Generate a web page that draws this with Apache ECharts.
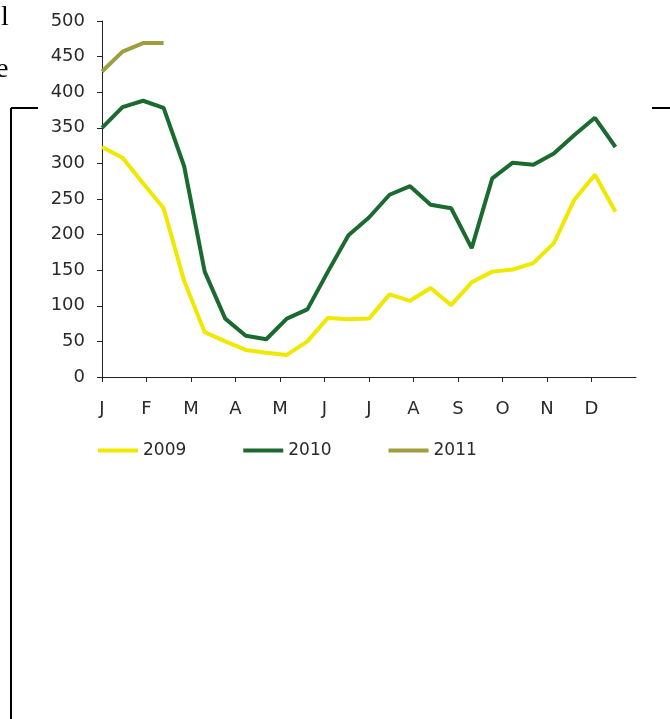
<!DOCTYPE html>
<html>
<head>
<meta charset="utf-8">
<script src="https://cdn.jsdelivr.net/npm/echarts@6/dist/echarts.min.js"></script>
<style>
html, body { margin: 0; padding: 0; background: #fff; }
#chart { width: 670px; height: 719px; }
</style>
</head>
<body>
<div id="chart"></div>
<script>
// fortnightly readings, 26 per year (27th slot = year end)
const periods = ['1','2','3','4','5','6','7','8','9','10','11','12','13','14','15','16','17','18','19','20','21','22','23','24','25','26','27'];
const months = ['J','F','M','A','M','J','J','A','S','O','N','D',''];

const y2009 = [323, 308, 272, 237, 135, 63, 50, 38, 34, 31, 50, 83, 81, 82, 116, 107, 125, 101, 133, 148, 151, 160, 188, 249, 284, 232];
const y2010 = [350, 379, 388, 378, 296, 148, 82, 58, 53, 82, 95, 148, 199, 224, 256, 268, 242, 237, 181, 279, 301, 298, 314, 340, 364, 323];
const y2011 = [429, 457, 469, 469];

const font = 'DejaVu Sans';

var chart = echarts.init(document.getElementById('chart'));

const option = {
  animation: false,
  backgroundColor: '#fff',
  grid: { left: 102, top: 21, width: 534, height: 356 },
  legend: {
    data: ['2009', '2010', '2011'],
    left: 93,
    top: 437,
    icon: 'rect',
    itemWidth: 40,
    itemHeight: 4,
    itemGap: 57,
    textStyle: { fontFamily: font, fontSize: 17, color: '#2a2a2a' },
  },
  xAxis: [
    {
      type: 'category',
      data: periods,
      boundaryGap: false,
      show: false,
    },
    {
      type: 'category',
      data: months,
      boundaryGap: false,
      position: 'bottom',
      axisLine: { lineStyle: { color: '#222', width: 1 } },
      axisTick: {
        length: 5,
        lineStyle: { color: '#222' },
        interval: function (i) {
          return i < 12;
        },
      },
      axisLabel: {
        fontFamily: font,
        fontSize: 18,
        color: '#2a2a2a',
        margin: 23,
        interval: function (i) {
          return i < 12;
        },
      },
      splitLine: { show: false },
    },
  ],
  yAxis: {
    type: 'value',
    min: 0,
    max: 500,
    interval: 50,
    axisLine: { show: true, lineStyle: { color: '#222', width: 1 } },
    axisTick: { show: true, length: 5, lineStyle: { color: '#222' } },
    axisLabel: { fontFamily: font, fontSize: 18, color: '#2a2a2a', margin: 17 },
    splitLine: { show: false },
  },
  series: [
    {
      name: '2009',
      type: 'line',
      xAxisIndex: 0,
      data: y2009,
      symbol: 'none',
      color: '#f0e800',
      lineStyle: { width: 4, color: '#f0e800' },
    },
    {
      name: '2010',
      type: 'line',
      xAxisIndex: 0,
      data: y2010,
      symbol: 'none',
      color: '#1b6a30',
      lineStyle: { width: 4, color: '#1b6a30' },
    },
    {
      name: '2011',
      type: 'line',
      xAxisIndex: 0,
      data: y2011,
      symbol: 'none',
      color: '#9e9e3e',
      lineStyle: { width: 4, color: '#9e9e3e' },
    },
  ],
  // bits of the surrounding page that show in the scan
  graphic: [
    { type: 'text', left: 1, top: 4, style: { text: 'l', font: '28px "Liberation Serif"', fill: '#000' } },
    { type: 'text', left: -4, top: 56, style: { text: 'e', font: '28px "Liberation Serif"', fill: '#000' } },
    { type: 'line', shape: { x1: 11, y1: 108, x2: 38, y2: 108 }, style: { stroke: '#000', lineWidth: 2 } },
    { type: 'line', shape: { x1: 11, y1: 108, x2: 11, y2: 719 }, style: { stroke: '#000', lineWidth: 2 } },
    { type: 'line', shape: { x1: 652, y1: 108, x2: 670, y2: 108 }, style: { stroke: '#000', lineWidth: 2 } },
  ],
};

chart.setOption(option);
</script>
</body>
</html>
